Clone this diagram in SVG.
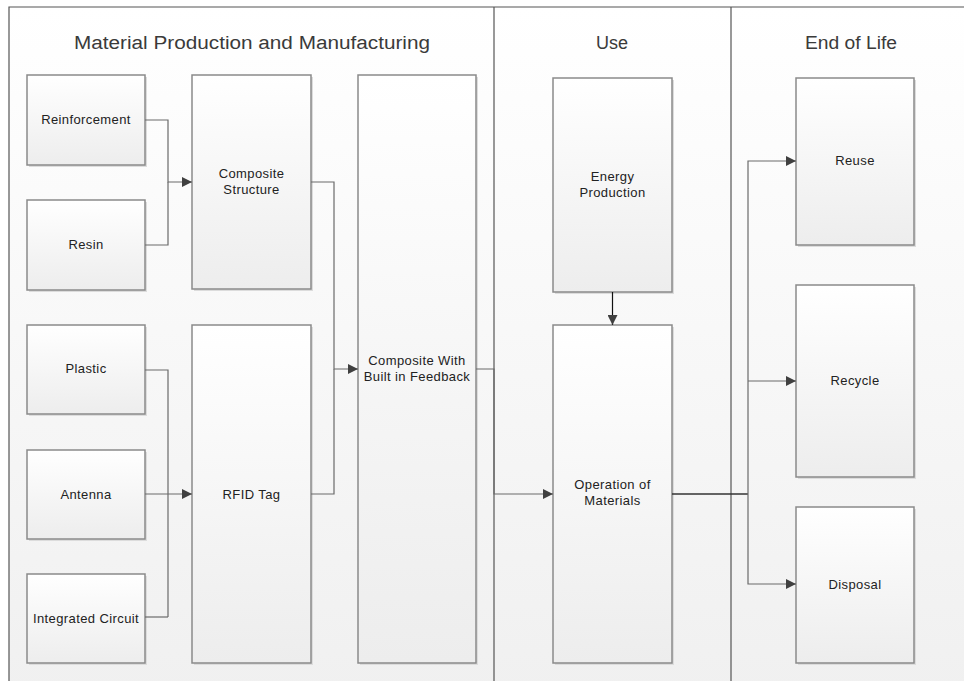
<svg xmlns="http://www.w3.org/2000/svg" width="964" height="681" viewBox="0 0 964 681">
<defs>
<linearGradient id="bg" x1="0" y1="0" x2="0" y2="1">
<stop offset="0" stop-color="#ffffff"/>
<stop offset="1" stop-color="#f0f0f0"/>
</linearGradient>
<linearGradient id="box" x1="0" y1="0" x2="0" y2="1">
<stop offset="0" stop-color="#ffffff"/>
<stop offset="1" stop-color="#ededed"/>
</linearGradient>
<marker id="arr" viewBox="0 0 10 10" refX="10" refY="5" markerWidth="10" markerHeight="10" markerUnits="userSpaceOnUse" orient="auto">
<path d="M0,0 L10,5 L0,10 z" fill="#404040"/>
</marker>
</defs>
<style>
.frame{fill:none;stroke:#555555;stroke-width:1.2}
.node rect.b{fill:url(#box);stroke:#8a8a8a;stroke-width:1.5}
.node rect.s{fill:#dcdcdc;stroke:none}
.lbl{font-family:"Liberation Sans",Arial,sans-serif;font-size:13px;letter-spacing:0.4px;fill:#222222;text-anchor:middle}
.title{font-family:"Liberation Sans",Arial,sans-serif;font-size:18px;fill:#3a3a3a;text-anchor:middle}
.conn path{fill:none;stroke:#6a6a6a;stroke-width:1.2}
.conn path.dark{stroke:#333333;stroke-width:1.6}
.conn path.blk{stroke:#111111;stroke-width:1.2}
</style>
<rect x="0" y="0" width="964" height="681" fill="#ffffff"/>
<rect x="9" y="7" width="970" height="690" fill="url(#bg)"/>
<g id="frame">
<path class="frame" d="M9,690 L9,7 L975,7"/>
<path class="frame" d="M494,7 L494,690"/>
<path class="frame" d="M731,7 L731,690"/>
</g>
<g id="titles">
<text class="title" x="252" y="49" textLength="356" lengthAdjust="spacingAndGlyphs">Material Production and Manufacturing</text>
<text class="title" x="612" y="49">Use</text>
<text class="title" x="851" y="49" textLength="92" lengthAdjust="spacingAndGlyphs">End of Life</text>
</g>
<g id="reinforcement" class="node"><rect class="s" x="29" y="77" width="118" height="90"/><rect class="b" x="27" y="75" width="118" height="90"/><text class="lbl" x="86" y="124">Reinforcement</text></g>
<g id="resin" class="node"><rect class="s" x="29" y="202" width="118" height="90"/><rect class="b" x="27" y="200" width="118" height="90"/><text class="lbl" x="86" y="249">Resin</text></g>
<g id="composite-structure" class="node"><rect class="s" x="194" y="77" width="119" height="214"/><rect class="b" x="192" y="75" width="119" height="214"/><text class="lbl" x="251.5" y="178">Composite</text><text class="lbl" x="251.5" y="194">Structure</text></g>
<g id="plastic" class="node"><rect class="s" x="29" y="327" width="118" height="89"/><rect class="b" x="27" y="325" width="118" height="89"/><text class="lbl" x="86" y="373">Plastic</text></g>
<g id="antenna" class="node"><rect class="s" x="29" y="452" width="118" height="89"/><rect class="b" x="27" y="450" width="118" height="89"/><text class="lbl" x="86" y="499">Antenna</text></g>
<g id="integrated-circuit" class="node"><rect class="s" x="29" y="576" width="118" height="89"/><rect class="b" x="27" y="574" width="118" height="89"/><text class="lbl" x="86" y="623">Integrated Circuit</text></g>
<g id="rfid-tag" class="node"><rect class="s" x="194" y="327" width="119" height="338"/><rect class="b" x="192" y="325" width="119" height="338"/><text class="lbl" x="251.5" y="499">RFID Tag</text></g>
<g id="composite-feedback" class="node"><rect class="s" x="360" y="77" width="118" height="588"/><rect class="b" x="358" y="75" width="118" height="588"/><text class="lbl" x="417" y="365">Composite With</text><text class="lbl" x="417" y="381">Built in Feedback</text></g>
<g id="energy-production" class="node"><rect class="s" x="555" y="80" width="119" height="214"/><rect class="b" x="553" y="78" width="119" height="214"/><text class="lbl" x="612.5" y="181">Energy</text><text class="lbl" x="612.5" y="197">Production</text></g>
<g id="operation" class="node"><rect class="s" x="555" y="327" width="119" height="338"/><rect class="b" x="553" y="325" width="119" height="338"/><text class="lbl" x="612.5" y="489">Operation of</text><text class="lbl" x="612.5" y="505">Materials</text></g>
<g id="reuse" class="node"><rect class="s" x="798" y="80" width="118" height="167"/><rect class="b" x="796" y="78" width="118" height="167"/><text class="lbl" x="855" y="165">Reuse</text></g>
<g id="recycle" class="node"><rect class="s" x="798" y="287" width="118" height="192"/><rect class="b" x="796" y="285" width="118" height="192"/><text class="lbl" x="855" y="385">Recycle</text></g>
<g id="disposal" class="node"><rect class="s" x="798" y="509" width="118" height="156"/><rect class="b" x="796" y="507" width="118" height="156"/><text class="lbl" x="855" y="589">Disposal</text></g>
<g id="connectors" class="conn">
<path d="M145,120 L168,120 L168,182 L192,182" marker-end="url(#arr)"/>
<path d="M145,245 L168,245 L168,182"/>
<path d="M145,370 L168,370 L168,494"/>
<path d="M168,617 L168,494"/>
<path d="M145,617 L168,617"/>
<path d="M145,494 L192,494" marker-end="url(#arr)"/>
<path d="M311,182 L334,182 L334,369 L358,369" marker-end="url(#arr)"/>
<path d="M311,494 L334,494 L334,369"/>
<path d="M476,369 L494,369 L494,494 L553,494" marker-end="url(#arr)"/>
<path class="blk" d="M612.5,292 L612.5,325" marker-end="url(#arr)"/>
<path class="dark" d="M672,494 L748,494"/>
<path d="M748,494 L748,161 L796,161" marker-end="url(#arr)"/>
<path d="M748,381 L796,381" marker-end="url(#arr)"/>
<path d="M748,494 L748,584 L796,584" marker-end="url(#arr)"/>
</g>
</svg>
